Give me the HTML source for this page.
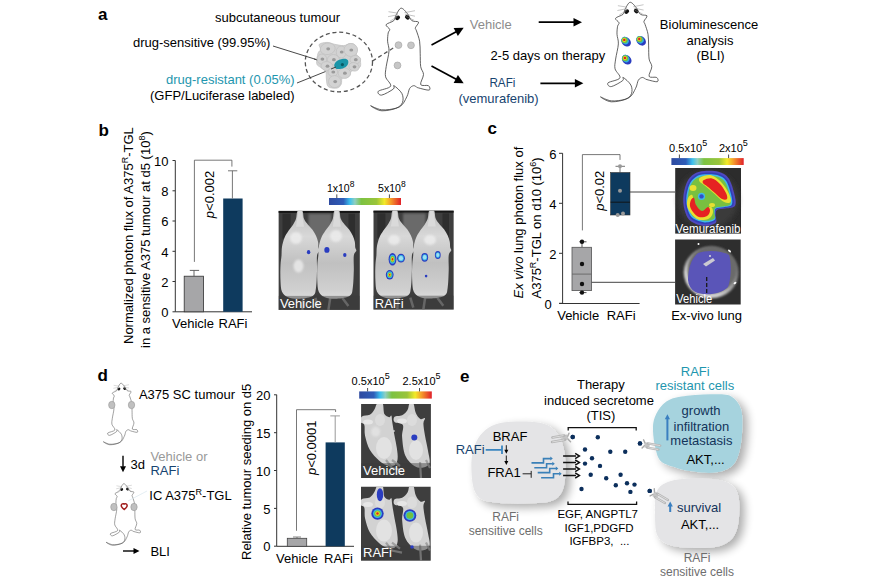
<!DOCTYPE html><html><head><meta charset="utf-8"><style>html,body{margin:0;padding:0;background:#fff;width:875px;height:583px;overflow:hidden}svg{display:block}</style></head><body>
<svg width="875" height="583" viewBox="0 0 875 583" font-family="Liberation Sans, sans-serif">
<defs>
<linearGradient id="jet" x1="0" x2="1" y1="0" y2="0">
<stop offset="0" stop-color="#2e4aa0"/><stop offset="0.2" stop-color="#2e5cb8"/><stop offset="0.29" stop-color="#3cc0ee"/>
<stop offset="0.36" stop-color="#8fcfc0"/><stop offset="0.45" stop-color="#7cc242"/><stop offset="0.66" stop-color="#9ac43a"/>
<stop offset="0.77" stop-color="#f2ea2a"/><stop offset="0.86" stop-color="#f59a2a"/><stop offset="1" stop-color="#e0202a"/>
</linearGradient>
<filter id="blur05" x="-20%" y="-20%" width="140%" height="140%"><feGaussianBlur stdDeviation="0.5"/></filter>
<filter id="blur1" x="-20%" y="-20%" width="140%" height="140%"><feGaussianBlur stdDeviation="1"/></filter>
<filter id="blur2" x="-30%" y="-30%" width="160%" height="160%"><feGaussianBlur stdDeviation="2.5"/></filter>
<filter id="shadow" x="-30%" y="-30%" width="160%" height="160%"><feGaussianBlur in="SourceAlpha" stdDeviation="5"/><feOffset dx="5" dy="4"/><feComponentTransfer><feFuncA type="linear" slope="0.33"/></feComponentTransfer><feMerge><feMergeNode/><feMergeNode in="SourceGraphic"/></feMerge></filter>
<radialGradient id="spotR" cx="0.5" cy="0.5" r="0.5">
<stop offset="0" stop-color="#e02020"/><stop offset="0.22" stop-color="#f0e020"/><stop offset="0.42" stop-color="#60c040"/><stop offset="0.6" stop-color="#30b0e0"/><stop offset="0.78" stop-color="#2040c0"/><stop offset="1" stop-color="#2040c0" stop-opacity="0"/>
</radialGradient>
<radialGradient id="spotG" cx="0.5" cy="0.5" r="0.5">
<stop offset="0" stop-color="#60c040"/><stop offset="0.35" stop-color="#60c040"/><stop offset="0.55" stop-color="#30b0e0"/><stop offset="0.75" stop-color="#2040c0"/><stop offset="1" stop-color="#2040c0" stop-opacity="0"/>
</radialGradient>
<radialGradient id="spotC" cx="0.5" cy="0.5" r="0.5">
<stop offset="0" stop-color="#9ee0f0"/><stop offset="0.3" stop-color="#30b0e0"/><stop offset="0.65" stop-color="#2040c0"/><stop offset="1" stop-color="#2040c0" stop-opacity="0"/>
</radialGradient>
<radialGradient id="spotB" cx="0.5" cy="0.5" r="0.5">
<stop offset="0" stop-color="#3050d0"/><stop offset="0.7" stop-color="#3050d0"/><stop offset="1" stop-color="#3050d0" stop-opacity="0"/>
</radialGradient>
<linearGradient id="pmg" x1="0" x2="0" y1="0" y2="1"><stop offset="0" stop-color="#bcbcbc"/><stop offset="0.3" stop-color="#d8d8d8"/><stop offset="0.6" stop-color="#c0c0c0"/><stop offset="0.9" stop-color="#d0d0d0"/><stop offset="1" stop-color="#dcdcdc"/></linearGradient>

<path id="mouse" d="M0.00,0.00 C1.88,-0.33 4.40,3.13 6.20,5.20 C8.00,7.27 8.92,10.95 10.80,12.40 C12.68,13.85 16.90,12.70 17.50,13.90 C18.10,15.10 14.73,18.13 14.40,19.60 C14.07,21.07 14.80,20.47 15.50,22.70 C16.20,24.93 17.98,29.28 18.60,33.00 C19.22,36.72 19.02,40.75 19.20,45.00 C19.38,49.25 19.15,54.95 19.70,58.50 C20.25,62.05 22.50,63.32 22.50,66.30 C22.50,69.28 18.87,74.53 19.70,76.40 C20.53,78.27 26.10,76.58 27.50,77.50 C28.90,78.42 29.77,81.53 28.10,81.90 C26.43,82.27 19.63,80.25 17.50,79.70 C15.37,79.15 16.13,78.97 15.30,78.60 C14.47,78.23 13.62,77.22 12.50,77.50 C11.38,77.78 9.72,78.45 8.60,80.30 C7.48,82.15 7.47,85.55 5.80,88.60 C4.13,91.65 2.73,96.27 -1.40,98.60 C-5.53,100.93 -14.17,102.78 -19.00,102.60 C-23.83,102.42 -30.35,97.67 -30.40,97.50 C-30.45,97.33 -23.57,101.20 -19.30,101.60 C-15.03,102.00 -8.27,101.13 -4.80,99.90 C-1.33,98.67 0.55,96.63 1.50,94.20 C2.45,91.77 2.32,88.08 0.90,85.30 C-0.52,82.52 -5.58,78.25 -7.00,77.50 C-8.42,76.75 -5.55,79.23 -7.60,80.80 C-9.65,82.37 -16.80,86.53 -19.30,86.90 C-21.80,87.27 -24.08,84.48 -22.60,83.00 C-21.12,81.52 -11.60,80.40 -10.40,78.00 C-9.20,75.60 -14.67,71.85 -15.40,68.60 C-16.13,65.35 -15.37,62.78 -14.80,58.50 C-14.23,54.22 -12.23,47.15 -12.00,42.90 C-11.77,38.65 -13.27,36.03 -13.40,33.00 C-13.53,29.97 -13.15,26.68 -12.80,24.70 C-12.45,22.72 -10.95,22.47 -11.30,21.10 C-11.65,19.73 -15.58,17.95 -14.90,16.50 C-14.22,15.05 -8.83,13.95 -7.20,12.40 C-5.57,10.85 -6.30,9.27 -5.10,7.20 C-3.90,5.13 -1.88,0.33 0.00,0.00Z" fill="#fff" stroke="#444" stroke-width="0.85"/>
<path id="pmouse" d="M-2.40,0.00 C-1.33,-1.33 1.33,-1.33 2.40,0.00 C3.47,1.33 3.07,5.67 4.00,8.00 C4.93,10.33 6.58,12.17 8.00,14.00 C9.42,15.83 11.17,17.17 12.50,19.00 C13.83,20.83 15.08,23.00 16.00,25.00 C16.92,27.00 17.58,29.00 18.00,31.00 C18.42,33.00 18.25,35.50 18.50,37.00 C18.75,38.50 19.75,38.67 19.50,40.00 C19.25,41.33 17.42,41.67 17.00,45.00 C16.58,48.33 17.17,54.67 17.00,60.00 C16.83,65.33 16.67,72.83 16.00,77.00 C15.33,81.17 15.67,83.17 13.00,85.00 C10.33,86.83 4.17,87.75 0.00,88.00 C-4.17,88.25 -9.00,87.67 -12.00,86.50 C-15.00,85.33 -16.75,83.75 -18.00,81.00 C-19.25,78.25 -19.25,74.33 -19.50,70.00 C-19.75,65.67 -19.67,59.17 -19.50,55.00 C-19.33,50.83 -18.75,48.17 -18.50,45.00 C-18.25,41.83 -18.50,39.00 -18.00,36.00 C-17.50,33.00 -16.58,29.67 -15.50,27.00 C-14.42,24.33 -12.92,22.17 -11.50,20.00 C-10.08,17.83 -8.25,16.00 -7.00,14.00 C-5.75,12.00 -4.77,10.33 -4.00,8.00 C-3.23,5.67 -3.47,1.33 -2.40,0.00Z"/>
<g id="mhead"><ellipse cx="-3.3" cy="9.6" rx="2.6" ry="2" transform="rotate(-40 -3.3 9.6)" fill="#111"/><ellipse cx="6.3" cy="9.1" rx="2.6" ry="2" transform="rotate(40 6.3 9.1)" fill="#111"/>
<path d="M-3,5 L-12.5,3.5 M-3,6.5 L-13,8.5 M-3.5,8.5 L-11,13 M3.5,4.5 L14,2.5 M4,6 L14,8 M4.5,8 L13,12" stroke="#888" stroke-width="0.5" fill="none"/></g>
<g id="receptor"><path d="M2.6,-3.8 L4.6,-0.8 M2.6,3.8 L4.6,0.8" stroke="#aaaaaa" stroke-width="1.3" stroke-linecap="round"/><path d="M4.5,-1.8 H9 V3 H4.5 Z" fill="#c4c4c4"/><path d="M7,-1.2 H18.5 M7,2.6 H17.5" stroke="#b4b4b4" stroke-width="2.1" stroke-linecap="round"/><path d="M8,-1.2 H18 M8,2.6 H17" stroke="#e2e2e2" stroke-width="0.7" stroke-linecap="round"/></g>
</defs>
<text x="98" y="19.8" font-size="17" fill="#000" text-anchor="start" font-weight="bold">a</text>
<text x="215" y="21.5" font-size="13" fill="#000" text-anchor="start" >subcutaneous tumour</text>
<text x="133" y="47" font-size="13" fill="#000" text-anchor="start" >drug-sensitive (99.95%)</text>
<text x="166" y="84" font-size="13" fill="#1e96ae" text-anchor="start" >drug-resistant (0.05%)</text>
<text x="150" y="100" font-size="13" fill="#000" text-anchor="start" >(GFP/Luciferase labeled)</text>
<ellipse cx="338.9" cy="62" rx="33.6" ry="29.8" fill="none" stroke="#555" stroke-width="1.3" stroke-dasharray="4,2.8"/>
<line x1="273" y1="46" x2="321" y2="61" stroke="#333" stroke-width="0.9"/>
<line x1="297" y1="83" x2="338" y2="66.5" stroke="#333" stroke-width="0.9"/>
<path d="M319.30,44.30 C320.37,43.13 324.43,42.40 327.00,42.40 C329.57,42.40 331.92,43.77 334.70,44.30 C337.48,44.83 341.12,45.72 343.70,45.60 C346.28,45.48 348.27,43.60 350.20,43.60 C352.13,43.60 354.23,43.77 355.30,45.60 C356.37,47.43 355.85,52.47 356.60,54.60 C357.35,56.73 359.15,56.47 359.80,58.40 C360.45,60.33 361.03,64.48 360.50,66.20 C359.97,67.92 358.12,67.85 356.60,68.70 C355.08,69.55 352.68,70.02 351.40,71.30 C350.12,72.58 350.40,75.33 348.90,76.40 C347.40,77.47 343.68,76.40 342.40,77.70 C341.12,79.00 342.05,82.48 341.20,84.20 C340.35,85.92 339.45,87.58 337.30,88.00 C335.15,88.42 330.12,88.20 328.30,86.70 C326.48,85.20 326.83,81.57 326.40,79.00 C325.97,76.43 326.67,73.23 325.70,71.30 C324.73,69.37 322.10,68.68 320.60,67.40 C319.10,66.12 317.13,65.95 316.70,63.60 C316.27,61.25 317.35,55.67 318.00,53.30 C318.65,50.93 320.38,50.90 320.60,49.40 C320.82,47.90 318.23,45.47 319.30,44.30Z" fill="#d2d2d2" stroke="#c4c4c4" stroke-width="0.8"/>
<line x1="314" y1="59" x2="321" y2="61" stroke="#333" stroke-width="0.9"/>
<g>
<ellipse cx="327.7" cy="48.8" rx="7.5" ry="5.8" transform="rotate(-10 327.7 48.8)" fill="#d3d3d3" stroke="#c2c2c2" stroke-width="0.8"/>
<ellipse cx="341.2" cy="52" rx="5" ry="6" transform="rotate(0 341.2 52)" fill="#d3d3d3" stroke="#c2c2c2" stroke-width="0.8"/>
<ellipse cx="350.8" cy="50" rx="6.8" ry="6.5" transform="rotate(0 350.8 50)" fill="#d3d3d3" stroke="#c2c2c2" stroke-width="0.8"/>
<ellipse cx="321.9" cy="59.1" rx="4.8" ry="5" transform="rotate(0 321.9 59.1)" fill="#d3d3d3" stroke="#c2c2c2" stroke-width="0.8"/>
<ellipse cx="333.4" cy="59.7" rx="6" ry="5.2" transform="rotate(0 333.4 59.7)" fill="#d3d3d3" stroke="#c2c2c2" stroke-width="0.8"/>
<ellipse cx="355.3" cy="59.7" rx="5.3" ry="4.2" transform="rotate(0 355.3 59.7)" fill="#d3d3d3" stroke="#c2c2c2" stroke-width="0.8"/>
<ellipse cx="327" cy="66.2" rx="6" ry="4.6" transform="rotate(10 327 66.2)" fill="#d3d3d3" stroke="#c2c2c2" stroke-width="0.8"/>
<ellipse cx="354" cy="66.8" rx="5.2" ry="4.2" transform="rotate(15 354 66.8)" fill="#d3d3d3" stroke="#c2c2c2" stroke-width="0.8"/>
<ellipse cx="344.4" cy="73.2" rx="6.2" ry="5.2" transform="rotate(0 344.4 73.2)" fill="#d3d3d3" stroke="#c2c2c2" stroke-width="0.8"/>
<ellipse cx="332.8" cy="72" rx="4.8" ry="4.4" transform="rotate(0 332.8 72)" fill="#d3d3d3" stroke="#c2c2c2" stroke-width="0.8"/>
<ellipse cx="334.7" cy="81.6" rx="6.2" ry="6" transform="rotate(0 334.7 81.6)" fill="#d3d3d3" stroke="#c2c2c2" stroke-width="0.8"/>
<ellipse cx="328.2" cy="48.8" rx="1.9" ry="1.6" fill="#9a9a9a"/>
<ellipse cx="341.7" cy="52" rx="1.9" ry="1.6" fill="#9a9a9a"/>
<ellipse cx="351.3" cy="50" rx="1.9" ry="1.6" fill="#9a9a9a"/>
<ellipse cx="322.4" cy="59.1" rx="1.9" ry="1.6" fill="#9a9a9a"/>
<ellipse cx="333.9" cy="59.7" rx="1.9" ry="1.6" fill="#9a9a9a"/>
<ellipse cx="355.8" cy="59.7" rx="1.9" ry="1.6" fill="#9a9a9a"/>
<ellipse cx="327.5" cy="66.2" rx="1.9" ry="1.6" fill="#9a9a9a"/>
<ellipse cx="354.5" cy="66.8" rx="1.9" ry="1.6" fill="#9a9a9a"/>
<ellipse cx="344.9" cy="73.2" rx="1.9" ry="1.6" fill="#9a9a9a"/>
<ellipse cx="333.3" cy="72" rx="1.9" ry="1.6" fill="#9a9a9a"/>
<ellipse cx="335.2" cy="81.6" rx="1.9" ry="1.6" fill="#9a9a9a"/>
</g>
<path d="M334.5,67 C333,63 338,59.5 343,58.8 C348,58.2 349,61 348,64 C346.5,68 341,69.5 336.5,69 Z" fill="#1a95a8"/><circle cx="342.4" cy="64.6" r="1.6" fill="#0a5a64"/>
<line x1="331" y1="69" x2="336" y2="67" stroke="#333" stroke-width="0.9"/>
<g transform="translate(401,8.2)"><use href="#mouse"/><use href="#mhead"/></g>
<line x1="372.5" y1="61" x2="396" y2="46.3" stroke="#555" stroke-width="1.3" stroke-dasharray="4,2.8"/>
<circle cx="398.5" cy="45.1" r="3.4" fill="#c6c6c6" stroke="#a8a8a8" stroke-width="0.7"/>
<circle cx="411" cy="45.3" r="3.4" fill="#c6c6c6" stroke="#a8a8a8" stroke-width="0.7"/>
<circle cx="397.5" cy="65.4" r="3.4" fill="#c6c6c6" stroke="#a8a8a8" stroke-width="0.7"/>
<line x1="431.5" y1="45" x2="456.20" y2="31.80" stroke="#000" stroke-width="1.7"/>
<polygon points="463.7,27.8 457.88,36.01 453.64,28.07" fill="#000"/>
<line x1="431.5" y1="66" x2="456.21" y2="79.28" stroke="#000" stroke-width="1.7"/>
<polygon points="463.7,83.3 453.64,83.00 457.90,75.08" fill="#000"/>
<text x="469.8" y="28.8" font-size="13" fill="#8c8c8c" text-anchor="start" >Vehicle</text>
<text x="490.4" y="59.7" font-size="13" fill="#000" text-anchor="start" >2-5 days on therapy</text>
<text x="489.4" y="87.4" font-size="13" fill="#174470" text-anchor="start" textLength="26" lengthAdjust="spacingAndGlyphs">RAFi</text>
<text x="498.6" y="102.9" font-size="13" fill="#174470" text-anchor="middle" >(vemurafenib)</text>
<line x1="538.7" y1="22.2" x2="574.00" y2="22.20" stroke="#000" stroke-width="1.7"/>
<polygon points="582,22.2 573.50,26.40 573.50,18.00" fill="#000"/>
<line x1="540.4" y1="83.3" x2="575.40" y2="83.30" stroke="#000" stroke-width="1.7"/>
<polygon points="583.4,83.3 574.90,87.50 574.90,79.10" fill="#000"/>
<g transform="translate(630,2.3) scale(0.97)"><use href="#mouse"/><use href="#mhead"/></g>
<g filter="url(#blur05)"><ellipse cx="626.0999999999999" cy="41.699999999999996" rx="5.4" ry="4.2" transform="rotate(45 626.0999999999999 41.699999999999996)" fill="#2a3cc0"/><ellipse cx="625.0999999999999" cy="40.699999999999996" rx="3.9" ry="3.3" transform="rotate(45 625.0999999999999 40.699999999999996)" fill="#30b0e0"/><circle cx="624.5999999999999" cy="40.199999999999996" r="3" fill="#70c040"/><circle cx="624.3" cy="39.9" r="2" fill="#e8d820"/><circle cx="624.3" cy="39.9" r="1.2" fill="#e02020"/></g>
<g filter="url(#blur05)"><ellipse cx="641.0999999999999" cy="40.8" rx="5.4" ry="4.2" transform="rotate(45 641.0999999999999 40.8)" fill="#2a3cc0"/><ellipse cx="640.0999999999999" cy="39.8" rx="3.9" ry="3.3" transform="rotate(45 640.0999999999999 39.8)" fill="#30b0e0"/><circle cx="639.5999999999999" cy="39.3" r="3" fill="#70c040"/><circle cx="639.3" cy="39" r="2" fill="#e8d820"/><circle cx="639.3" cy="39" r="1.2" fill="#e02020"/></g>
<g filter="url(#blur05)"><ellipse cx="626.6999999999999" cy="59.699999999999996" rx="5.4" ry="4.2" transform="rotate(45 626.6999999999999 59.699999999999996)" fill="#2a3cc0"/><ellipse cx="625.6999999999999" cy="58.699999999999996" rx="3.9" ry="3.3" transform="rotate(45 625.6999999999999 58.699999999999996)" fill="#30b0e0"/><circle cx="625.1999999999999" cy="58.199999999999996" r="3" fill="#70c040"/><circle cx="624.9" cy="57.9" r="2" fill="#e8d820"/><circle cx="624.9" cy="57.9" r="1.2" fill="#e02020"/></g>
<text x="709" y="29.4" font-size="13" fill="#000" text-anchor="middle" >Bioluminescence</text>
<text x="710" y="44.6" font-size="13" fill="#000" text-anchor="middle" >analysis</text>
<text x="710.5" y="60.2" font-size="13" fill="#000" text-anchor="middle" >(BLI)</text>
<text x="98.5" y="135.7" font-size="17" fill="#000" text-anchor="start" font-weight="bold">b</text>
<g stroke="#333" stroke-width="1" fill="none">
<path d="M175.3,160.5 V311.8 H252"/>
<line x1="172.5" y1="311.8" x2="175.3" y2="311.8"/>
<line x1="172.5" y1="281.5" x2="175.3" y2="281.5"/>
<line x1="172.5" y1="251.3" x2="175.3" y2="251.3"/>
<line x1="172.5" y1="221.0" x2="175.3" y2="221.0"/>
<line x1="172.5" y1="190.8" x2="175.3" y2="190.8"/>
<line x1="172.5" y1="160.5" x2="175.3" y2="160.5"/>
</g>
<text x="168.5" y="317.0" font-size="13" fill="#000" text-anchor="end" >0</text>
<text x="168.5" y="286.7" font-size="13" fill="#000" text-anchor="end" >2</text>
<text x="168.5" y="256.5" font-size="13" fill="#000" text-anchor="end" >4</text>
<text x="168.5" y="226.2" font-size="13" fill="#000" text-anchor="end" >6</text>
<text x="168.5" y="196.0" font-size="13" fill="#000" text-anchor="end" >8</text>
<text x="168.5" y="165.7" font-size="13" fill="#000" text-anchor="end" >10</text>
<rect x="184.2" y="276.2" width="19.4" height="35.6" fill="#a6a6a8" stroke="#333" stroke-width="0.8"/>
<path d="M194,276.2 V270.4 M189.8,270.4 H199.1" stroke="#555" stroke-width="0.9"/>
<rect x="223.2" y="198.5" width="19.4" height="113.3" fill="#0e3a5e"/>
<path d="M232.4,198.5 V170.8 M228,170.8 H237.3" stroke="#666" stroke-width="0.9"/>
<path d="M194.4,261.9 V160.2 H231.9 V166.6" stroke="#555" stroke-width="0.8" fill="none"/>
<text transform="translate(214.3,170.8) rotate(-90)" font-size="13" fill="#000" text-anchor="end" ><tspan font-style="italic">p</tspan>&lt;0.002</text>
<text x="172" y="328" font-size="13" fill="#000" text-anchor="start" >Vehicle</text>
<text x="218.5" y="328" font-size="13" fill="#000" text-anchor="start" >RAFi</text>
<text transform="translate(132.5,344) rotate(-90)" font-size="13" fill="#000" text-anchor="start" >Normalized photon flux of A375<tspan font-size="9" dy="-5">R</tspan><tspan dy="5">-TGL</tspan></text>
<text transform="translate(149.5,348) rotate(-90)" font-size="13" fill="#000" text-anchor="start" >in a sensitive A375 tumour at d5 (10<tspan font-size="9" dy="-5">8</tspan><tspan dy="5">)</tspan></text>
<rect x="329" y="198" width="72" height="7" fill="url(#jet)"/>
<path d="M336.8,194.4 V198 M389.4,194.4 V198" stroke="#222" stroke-width="0.8"/>
<text x="326.9" y="192" font-size="10.5" fill="#000" text-anchor="start" >1x10<tspan font-size="8.5" dy="-5">8</tspan></text>
<text x="378.1" y="192" font-size="10.5" fill="#000" text-anchor="start" >5x10<tspan font-size="8.5" dy="-5">8</tspan></text>
<clipPath id="c278210"><rect x="278.4" y="210.7" width="81.5" height="99.2"/></clipPath>
<g clip-path="url(#c278210)">
<rect x="278.4" y="210.7" width="81.5" height="99.2" fill="#3e3e3e"/>
<rect x="278.4" y="210.7" width="81.5" height="2.2" fill="#151515"/>
<rect x="308.55499999999995" y="213.7" width="22.820000000000004" height="31.744000000000003" fill="#6a6a6a" filter="url(#blur1)"/>
<rect x="282.47499999999997" y="213.7" width="8.15" height="24.8" fill="#2e2e2e"/>
<rect x="348.49" y="213.7" width="6.5200000000000005" height="34.72" fill="#2e2e2e"/>
<path d="M303.4,295.9 L302.4,309.9 M315.4,297.9 L318.4,307.9 M330.4,296.9 L328.4,309.9 M342.4,297.9 L348.4,305.9" stroke="#8a8a8a" stroke-width="2.5" filter="url(#blur05)"/>
<g filter="url(#blur05)">
<use href="#pmouse" transform="translate(300.0,210.7)" fill="url(#pmg)"/>
<path d="M298.2,210.7 H301.8 L304.0,226.7 H296.0 Z" fill="#dadada"/>
<use href="#pmouse" transform="translate(336.79999999999995,210.7)" fill="url(#pmg)"/>
<path d="M334.99999999999994,210.7 H338.59999999999997 L340.79999999999995,226.7 H332.79999999999995 Z" fill="#dadada"/>
</g>
<ellipse cx="298.5" cy="266" rx="5" ry="6.5" fill="#f0f0f0" opacity="0.75" filter="url(#blur1)"/>
<ellipse cx="296" cy="238" rx="6" ry="6" fill="#f0f0f0" opacity="0.75" filter="url(#blur1)"/>
<ellipse cx="336" cy="236" rx="6" ry="6" fill="#f0f0f0" opacity="0.75" filter="url(#blur1)"/>
<rect x="278.4" y="295.9" width="81.5" height="14" fill="#3a3a3a" opacity="0.45"/>
<g filter="url(#blur05)">
<ellipse cx="308.6" cy="252.2" rx="1.70" ry="2.10" fill="#2a3cc0"/>
</g>
<g filter="url(#blur05)">
<ellipse cx="326.9" cy="249.9" rx="2.60" ry="2.90" fill="#2a3cc0"/>
</g>
<g filter="url(#blur05)">
<ellipse cx="344.8" cy="255" rx="1.70" ry="1.90" fill="#2a3cc0"/>
</g>
</g>
<text x="279.9" y="308.29999999999995" font-size="13" fill="#fff" text-anchor="start" >Vehicle</text>
<clipPath id="c373210"><rect x="373.3" y="210.4" width="80.5" height="99.3"/></clipPath>
<g clip-path="url(#c373210)">
<rect x="373.3" y="210.4" width="80.5" height="99.3" fill="#3e3e3e"/>
<rect x="373.3" y="210.4" width="80.5" height="2.2" fill="#151515"/>
<rect x="403.08500000000004" y="213.4" width="22.540000000000003" height="31.776" fill="#6a6a6a" filter="url(#blur1)"/>
<rect x="377.325" y="213.4" width="8.05" height="24.825" fill="#2e2e2e"/>
<rect x="442.53000000000003" y="213.4" width="6.44" height="34.754999999999995" fill="#2e2e2e"/>
<path d="M398.3,295.7 L397.3,309.7 M410.3,297.7 L413.3,307.7 M425.3,296.7 L423.3,309.7 M437.3,297.7 L443.3,305.7" stroke="#8a8a8a" stroke-width="2.5" filter="url(#blur05)"/>
<g filter="url(#blur05)">
<use href="#pmouse" transform="translate(394.90000000000003,210.4)" fill="url(#pmg)"/>
<path d="M393.1,210.4 H396.70000000000005 L398.90000000000003,226.4 H390.90000000000003 Z" fill="#dadada"/>
<use href="#pmouse" transform="translate(431.7,210.4)" fill="url(#pmg)"/>
<path d="M429.9,210.4 H433.5 L435.7,226.4 H427.7 Z" fill="#dadada"/>
</g>
<ellipse cx="394" cy="240" rx="6" ry="5" fill="#f0f0f0" opacity="0.75" filter="url(#blur1)"/>
<ellipse cx="430" cy="240" rx="6" ry="5" fill="#f0f0f0" opacity="0.75" filter="url(#blur1)"/>
<rect x="373.3" y="295.7" width="80.5" height="14" fill="#3a3a3a" opacity="0.45"/>
<g filter="url(#blur05)">
<ellipse cx="392.5" cy="259.2" rx="3.90" ry="6.30" fill="#2a3cc0"/>
<ellipse cx="392.5" cy="259.2" rx="2.81" ry="4.54" fill="#38b8e8"/>
<ellipse cx="392.5" cy="259.2" rx="2.03" ry="3.28" fill="#70c040"/>
<ellipse cx="392.5" cy="259.2" rx="1.40" ry="2.27" fill="#e8e020"/>
<ellipse cx="392.5" cy="259.2" rx="0.78" ry="1.26" fill="#e02020"/>
</g>
<g filter="url(#blur05)">
<ellipse cx="401" cy="258.2" rx="3.90" ry="4.40" fill="#2a3cc0"/>
<ellipse cx="401" cy="258.2" rx="2.81" ry="3.17" fill="#38b8e8"/>
<ellipse cx="401" cy="258.2" rx="2.03" ry="2.29" fill="#a0e0f0"/>
</g>
<g filter="url(#blur05)">
<ellipse cx="389.7" cy="274.8" rx="3.90" ry="4.80" fill="#2a3cc0"/>
<ellipse cx="389.7" cy="274.8" rx="2.81" ry="3.46" fill="#38b8e8"/>
<ellipse cx="389.7" cy="274.8" rx="2.03" ry="2.50" fill="#70c040"/>
<ellipse cx="389.7" cy="274.8" rx="1.40" ry="1.73" fill="#e8e020"/>
<ellipse cx="389.7" cy="274.8" rx="0.78" ry="0.96" fill="#e02020"/>
</g>
<g filter="url(#blur05)">
<ellipse cx="424.7" cy="257.3" rx="3.40" ry="4.40" fill="#2a3cc0"/>
<ellipse cx="424.7" cy="257.3" rx="2.45" ry="3.17" fill="#38b8e8"/>
<ellipse cx="424.7" cy="257.3" rx="1.77" ry="2.29" fill="#a0e0f0"/>
</g>
<g filter="url(#blur05)">
<ellipse cx="437.8" cy="255" rx="2.90" ry="3.90" fill="#2a3cc0"/>
<ellipse cx="437.8" cy="255" rx="2.09" ry="2.81" fill="#38b8e8"/>
<ellipse cx="437.8" cy="255" rx="1.51" ry="2.03" fill="#a0e0f0"/>
</g>
<g filter="url(#blur05)">
<ellipse cx="426.1" cy="276.1" rx="1.30" ry="1.30" fill="#2a3cc0"/>
</g>
</g>
<text x="374.8" y="308.09999999999997" font-size="13" fill="#fff" text-anchor="start" >RAFi</text>
<text x="487.5" y="134.2" font-size="17" fill="#000" text-anchor="start" font-weight="bold">c</text>
<g stroke="#333" stroke-width="1" fill="none">
<path d="M562.6,153.2 V303.5 M559.3,303.5 H639.6"/>
<line x1="559" y1="303.3" x2="562.6" y2="303.3"/>
<line x1="559" y1="253.3" x2="562.6" y2="253.3"/>
<line x1="559" y1="203.3" x2="562.6" y2="203.3"/>
<line x1="559" y1="153.3" x2="562.6" y2="153.3"/>
</g>
<text x="551.8" y="308.7" font-size="13" fill="#000" text-anchor="end" >0</text>
<text x="556.5" y="258.7" font-size="13" fill="#000" text-anchor="end" >2</text>
<text x="556.5" y="208.7" font-size="13" fill="#000" text-anchor="end" >4</text>
<text x="556.5" y="158.7" font-size="13" fill="#000" text-anchor="end" >6</text>
<path d="M582,241.8 V247.3 M579.3,241.8 H586.5 M582,290.6 V292.6 M579.3,292.6 H586.5" stroke="#444" stroke-width="0.9"/>
<rect x="572" y="247.3" width="19.6" height="43.3" fill="#a6a6a8" stroke="#555" stroke-width="0.8"/>
<line x1="572" y1="274.1" x2="591.6" y2="274.1" stroke="#666" stroke-width="0.9"/>
<circle cx="582" cy="241.8" r="2.2" fill="#111"/>
<circle cx="582" cy="264" r="2.2" fill="#111"/>
<circle cx="582" cy="284" r="2.2" fill="#111"/>
<circle cx="582" cy="292.6" r="2.2" fill="#111"/>
<path d="M620,166.3 V172.5 M615.5,166.3 H625" stroke="#666" stroke-width="0.9"/>
<rect x="610.6" y="172.5" width="19.4" height="42.5" fill="#0e3a5e" stroke="#333" stroke-width="0.6"/>
<line x1="610.6" y1="202.2" x2="630" y2="202.2" stroke="#111" stroke-width="0.9"/>
<circle cx="620" cy="166.3" r="2" fill="#999"/>
<circle cx="620" cy="190.8" r="2" fill="#999"/>
<circle cx="617.7" cy="215" r="2" fill="#999"/>
<circle cx="623" cy="213.5" r="2" fill="#999"/>
<path d="M582.4,230.4 V154.6 H620 V159.9" stroke="#555" stroke-width="0.8" fill="none"/>
<text transform="translate(603.6,170.7) rotate(-90)" font-size="13" fill="#000" text-anchor="end" ><tspan font-style="italic">p</tspan>&lt;0.02</text>
<path d="M630,192 H675.1 M591.6,282.3 H675.1" stroke="#444" stroke-width="1"/>
<text x="557.2" y="320" font-size="13" fill="#000" text-anchor="start" >Vehicle</text>
<text x="606.7" y="320" font-size="13" fill="#000" text-anchor="start" >RAFi</text>
<text transform="translate(523,298.5) rotate(-90)" font-size="13" fill="#000" text-anchor="start" ><tspan font-style="italic">Ex vivo</tspan> lung photon flux of</text>
<text transform="translate(541.2,298.5) rotate(-90)" font-size="13" fill="#000" text-anchor="start" >A375<tspan font-size="9" dy="-5">R</tspan><tspan dy="5">-TGL on d10 (10</tspan><tspan font-size="9" dy="-5">6</tspan><tspan dy="5">)</tspan></text>
<rect x="671.4" y="158.1" width="72.3" height="6.9" fill="url(#jet)"/>
<path d="M679.4,154.5 V158.1 M728.6,154.5 V158.1" stroke="#222" stroke-width="0.8"/>
<text x="669.1" y="152.1" font-size="11" fill="#000" text-anchor="start" >0.5x10<tspan font-size="9" dy="-6">5</tspan></text>
<text x="718.9" y="152.1" font-size="11" fill="#000" text-anchor="start" >2x10<tspan font-size="9" dy="-6">5</tspan></text>
<rect x="675.2" y="168" width="65.8" height="65.6" fill="#2c2c2c"/>
<ellipse cx="708" cy="200" rx="30" ry="29" fill="#3a3a3a" filter="url(#blur2)"/>
<g filter="url(#blur05)">
<path d="M704.12,171.02 C708.19,170.65 714.42,170.54 718.50,171.75 C722.58,172.96 725.94,174.53 728.58,178.26 C731.22,181.99 733.27,189.55 734.36,194.12 C735.44,198.68 736.52,203.27 735.09,205.67 C733.65,208.06 728.75,207.78 725.75,208.50 C722.74,209.22 718.71,208.76 717.03,209.97 C715.35,211.18 715.89,213.59 715.66,215.75 C715.44,217.90 717.59,221.20 715.66,222.88 C713.74,224.56 708.19,226.05 704.12,225.82 C700.04,225.60 694.32,223.69 691.20,221.52 C688.09,219.35 686.75,216.66 685.42,212.81 C684.09,208.96 682.99,203.46 683.22,198.42 C683.45,193.38 684.99,186.64 686.79,182.56 C688.59,178.49 691.15,175.88 694.04,173.95 C696.92,172.03 700.04,171.38 704.12,171.02Z" fill="#5048c0"/>
<path d="M704.37,172.81 C708.18,172.47 713.99,172.37 717.80,173.50 C721.61,174.63 724.74,176.10 727.21,179.58 C729.67,183.06 731.59,190.11 732.60,194.37 C733.61,198.64 734.62,202.92 733.28,205.15 C731.94,207.39 727.37,207.13 724.56,207.80 C721.75,208.47 718.00,208.04 716.43,209.17 C714.86,210.30 715.37,212.55 715.15,214.56 C714.94,216.57 716.95,219.66 715.15,221.23 C713.36,222.79 708.18,224.18 704.37,223.97 C700.57,223.76 695.23,221.98 692.32,219.95 C689.41,217.93 688.17,215.41 686.93,211.82 C685.69,208.22 684.66,203.10 684.87,198.39 C685.08,193.69 686.52,187.40 688.20,183.59 C689.89,179.79 692.27,177.35 694.97,175.56 C697.66,173.76 700.57,173.16 704.37,172.81Z" fill="#2f40b8"/>
<path d="M704.60,174.36 C708.17,174.03 713.63,173.94 717.20,175.00 C720.77,176.06 723.72,177.44 726.03,180.70 C728.35,183.97 730.14,190.59 731.09,194.60 C732.04,198.60 732.99,202.62 731.74,204.72 C730.48,206.82 726.19,206.57 723.55,207.20 C720.91,207.83 717.38,207.43 715.91,208.49 C714.44,209.55 714.92,211.66 714.72,213.55 C714.52,215.43 716.40,218.33 714.72,219.80 C713.03,221.28 708.17,222.58 704.60,222.38 C701.02,222.18 696.01,220.51 693.28,218.61 C690.55,216.71 689.39,214.35 688.22,210.97 C687.05,207.60 686.09,202.78 686.29,198.37 C686.49,193.95 687.84,188.05 689.42,184.48 C691.00,180.90 693.23,178.62 695.76,176.93 C698.29,175.25 701.02,174.68 704.60,174.36Z" fill="#40b8e8"/>
<path d="M704.82,175.90 C708.16,175.60 713.26,175.51 716.60,176.50 C719.94,177.49 722.69,178.78 724.86,181.83 C727.02,184.88 728.70,191.08 729.59,194.82 C730.47,198.56 731.36,202.31 730.19,204.28 C729.01,206.24 725.00,206.01 722.53,206.60 C720.07,207.19 716.77,206.81 715.40,207.80 C714.02,208.79 714.46,210.77 714.28,212.53 C714.09,214.30 715.85,217.01 714.28,218.38 C712.70,219.76 708.16,220.98 704.82,220.79 C701.48,220.60 696.79,219.04 694.24,217.26 C691.69,215.49 690.60,213.28 689.51,210.13 C688.42,206.97 687.52,202.47 687.70,198.34 C687.89,194.22 689.15,188.70 690.63,185.36 C692.10,182.02 694.20,179.88 696.56,178.31 C698.93,176.73 701.48,176.20 704.82,175.90Z" fill="#78c040"/>
<path d="M700.70,177.30 C702.65,176.33 707.63,174.48 711.10,175.35 C714.57,176.22 718.47,179.36 721.50,182.50 C724.53,185.64 727.78,190.95 729.30,194.20 C730.82,197.45 731.47,200.70 730.60,202.00 C729.73,203.30 726.70,203.30 724.10,202.00 C721.50,200.70 718.03,196.80 715.00,194.20 C711.97,191.60 708.50,188.57 705.90,186.40 C703.30,184.23 700.27,182.72 699.40,181.20 C698.53,179.68 698.75,178.28 700.70,177.30Z" fill="#e8e030"/>
<path d="M688.30,197.60 C689.17,195.87 691.12,193.92 692.20,195.00 C693.28,196.08 693.07,201.28 694.80,204.10 C696.53,206.92 700.00,211.47 702.60,211.90 C705.20,212.33 708.67,206.70 710.40,206.70 C712.13,206.70 713.22,209.95 713.00,211.90 C712.78,213.85 711.48,217.10 709.10,218.40 C706.72,219.70 701.73,220.57 698.70,219.70 C695.67,218.83 692.85,215.58 690.90,213.20 C688.95,210.82 687.43,208.00 687.00,205.40 C686.57,202.80 687.43,199.33 688.30,197.60Z" fill="#e8e030"/>
<ellipse cx="693" cy="188" rx="3.5" ry="3" fill="#e8e030"/><ellipse cx="712" cy="205" rx="3" ry="2" fill="#e8e030"/>
<path d="M704.00,180.00 C705.50,179.25 709.33,177.83 712.00,178.50 C714.67,179.17 717.67,181.58 720.00,184.00 C722.33,186.42 724.83,190.50 726.00,193.00 C727.17,195.50 727.67,198.00 727.00,199.00 C726.33,200.00 724.00,200.00 722.00,199.00 C720.00,198.00 717.33,195.00 715.00,193.00 C712.67,191.00 710.00,188.67 708.00,187.00 C706.00,185.33 703.67,184.17 703.00,183.00 C702.33,181.83 702.50,180.75 704.00,180.00Z" fill="#e62020"/>
<path d="M691.00,200.00 C691.67,198.67 693.17,197.17 694.00,198.00 C694.83,198.83 694.67,202.83 696.00,205.00 C697.33,207.17 700.00,210.67 702.00,211.00 C704.00,211.33 706.67,207.00 708.00,207.00 C709.33,207.00 710.17,209.50 710.00,211.00 C709.83,212.50 708.83,215.00 707.00,216.00 C705.17,217.00 701.33,217.67 699.00,217.00 C696.67,216.33 694.50,213.83 693.00,212.00 C691.50,210.17 690.33,208.00 690.00,206.00 C689.67,204.00 690.33,201.33 691.00,200.00Z" fill="#e62020"/>
<circle cx="701.5" cy="196.4" r="5.5" fill="#78c040"/><circle cx="701.5" cy="196.4" r="3.6" fill="#40b8e8"/><circle cx="701.5" cy="196.4" r="2.2" fill="#3050c8"/>
</g>
<text x="675.5" y="232.7" font-size="12.5" fill="#fff" text-anchor="start" textLength="65" lengthAdjust="spacingAndGlyphs">Vemurafenib</text>
<rect x="675.1" y="239.5" width="65.6" height="65" fill="#2e2e2e"/>
<radialGradient id="lrg" cx="0.35" cy="0.7" r="0.75"><stop offset="0.5" stop-color="#d0d0d0"/><stop offset="1" stop-color="#555"/></radialGradient>
<ellipse cx="711.2" cy="272.3" rx="27.5" ry="26" fill="url(#lrg)" filter="url(#blur1)"/>
<ellipse cx="712" cy="270" rx="24.5" ry="23.5" fill="#6a6a6a" filter="url(#blur1)"/>
<path d="M698,253 C706,250 721,250 729,255 C732,263 731,279 728,287 C722,293 712,295 703,294 C694,293 689,289 688,280 C688,269 691,259 698,253 Z" fill="#5a54b8" filter="url(#blur05)"/>
<path d="M703,264 L713,258 L715,260.5 L706,266.5 Z" fill="#e8e8d8" opacity="0.8" filter="url(#blur05)"/><circle cx="710" cy="256" r="1" fill="#ddd"/>
<path d="M706.7,277 V281 M706.7,283 V287 M706.7,289 V293" stroke="#1a1a1a" stroke-width="1.3"/>
<ellipse cx="729.5" cy="251" rx="1.8" ry="1" transform="rotate(40 729.5 251)" fill="#fff"/><ellipse cx="735" cy="283" rx="1.6" ry="1" transform="rotate(-40 735 283)" fill="#fff"/><circle cx="698.5" cy="244" r="1" fill="#fff"/>
<text x="676.2" y="302.5" font-size="12.5" fill="#fff" text-anchor="start" textLength="36" lengthAdjust="spacingAndGlyphs">Vehicle</text>
<text x="671.2" y="319.7" font-size="13" fill="#000" text-anchor="start" >Ex-vivo lung</text>
<text x="97.5" y="380.9" font-size="17" fill="#000" text-anchor="start" font-weight="bold">d</text>
<g transform="translate(120.9,383.2) scale(0.58,0.6)"><use href="#mouse"/><use href="#mhead"/></g>
<ellipse cx="111.8" cy="405" rx="3.2" ry="3.7" fill="#c0c0c0" stroke="#999" stroke-width="0.6"/>
<ellipse cx="131.5" cy="405" rx="3.2" ry="3.7" fill="#c0c0c0" stroke="#999" stroke-width="0.6"/>
<text x="138.9" y="399.1" font-size="13" fill="#000" text-anchor="start" >A375 SC tumour</text>
<line x1="123" y1="455.7" x2="123.00" y2="466.80" stroke="#000" stroke-width="1.4"/>
<polygon points="123,472.3 120.00,466.30 126.00,466.30" fill="#000"/>
<text x="130.6" y="468.7" font-size="13" fill="#000" text-anchor="start" >3d</text>
<text x="150.4" y="461.4" font-size="13" fill="#999" text-anchor="start" >Vehicle or</text>
<text x="150.4" y="475" font-size="13" fill="#174470" text-anchor="start" >RAFi</text>
<g transform="translate(123.7,483.7) scale(0.58,0.6)"><use href="#mouse"/><use href="#mhead"/></g>
<ellipse cx="113.9" cy="507" rx="3.2" ry="3.7" fill="#c0c0c0" stroke="#999" stroke-width="0.6"/>
<ellipse cx="134" cy="507" rx="3.2" ry="3.7" fill="#c0c0c0" stroke="#999" stroke-width="0.6"/>
<path d="M124.2,509.5 C121.3,507.3 120.5,505.3 122,504 C123.1,503.2 124.2,503.9 124.2,504.7 C124.2,503.9 125.3,503.2 126.4,504 C127.9,505.3 127.1,507.3 124.2,509.5 Z" fill="none" stroke="#a01c1c" stroke-width="1.5"/>
<line x1="128" y1="501" x2="147" y2="491" stroke="#d8e6ee" stroke-width="0.7"/>
<text x="149.3" y="499.7" font-size="13" fill="#000" text-anchor="start" >IC A375<tspan font-size="9" dy="-5">R</tspan><tspan dy="5">-TGL</tspan></text>
<line x1="123" y1="551" x2="134.00" y2="551.00" stroke="#000" stroke-width="1.4"/>
<polygon points="139.5,551 133.50,554.00 133.50,548.00" fill="#000"/>
<text x="150.4" y="555.6" font-size="13" fill="#000" text-anchor="start" >BLI</text>
<g stroke="#333" stroke-width="1" fill="none">
<path d="M276.7,394.7 V546.3 H354"/>
<line x1="274" y1="546.2" x2="276.7" y2="546.2"/>
<line x1="274" y1="508.4" x2="276.7" y2="508.4"/>
<line x1="274" y1="470.5" x2="276.7" y2="470.5"/>
<line x1="274" y1="432.7" x2="276.7" y2="432.7"/>
<line x1="274" y1="394.8" x2="276.7" y2="394.8"/>
</g>
<text x="270.5" y="551.4" font-size="13" fill="#000" text-anchor="end" >0</text>
<text x="270.5" y="513.6" font-size="13" fill="#000" text-anchor="end" >5</text>
<text x="270.5" y="475.7" font-size="13" fill="#000" text-anchor="end" >10</text>
<text x="270.5" y="437.9" font-size="13" fill="#000" text-anchor="end" >15</text>
<text x="270.5" y="400.0" font-size="13" fill="#000" text-anchor="end" >20</text>
<path d="M297,538.3 V537 M293,537 H301" stroke="#666" stroke-width="0.8"/>
<rect x="287.3" y="538.3" width="19.4" height="8" fill="#a6a6a8" stroke="#444" stroke-width="0.8"/>
<rect x="325.6" y="442.4" width="19.2" height="103.9" fill="#0e3a5e"/>
<path d="M335.2,442.4 V415.9 M330.3,415.9 H339.9" stroke="#999" stroke-width="1"/>
<path d="M296.5,530.8 V409.7 H335.6 V412" stroke="#555" stroke-width="0.8" fill="none"/>
<text transform="translate(316,420.5) rotate(-90)" font-size="13" fill="#000" text-anchor="end" ><tspan font-style="italic">p</tspan>&lt;0.0001</text>
<text x="276.1" y="562.8" font-size="13" fill="#000" text-anchor="start" >Vehicle</text>
<text x="324" y="562.8" font-size="13" fill="#000" text-anchor="start" >RAFi</text>
<text transform="translate(250.5,560) rotate(-90)" font-size="13" fill="#000" text-anchor="start" >Relative tumour seeding on d5</text>
<rect x="359.2" y="391.4" width="72.6" height="7.2" fill="url(#jet)"/>
<path d="M367.6,388 V391.4 M419.5,388 V391.4" stroke="#222" stroke-width="0.8"/>
<text x="351.6" y="384.8" font-size="11" fill="#000" text-anchor="start" >0.5x10<tspan font-size="9" dy="-6">5</tspan></text>
<text x="402.5" y="384.8" font-size="11" fill="#000" text-anchor="start" >2.5x10<tspan font-size="9" dy="-6">5</tspan></text>
<clipPath id="d403"><rect x="361.1" y="403.9" width="69.8" height="74.2"/></clipPath>
<g clip-path="url(#d403)">
<rect x="361.1" y="403.9" width="69.8" height="74.2" fill="#3e3e3e"/>
<g filter="url(#blur05)" transform="translate(0,0)">
<path d="M379.01,403.20 C380.04,403.20 381.96,402.15 382.86,403.97 C383.76,405.78 383.35,411.89 384.40,414.09 C385.44,416.29 387.96,416.91 389.13,417.17 C390.30,417.43 390.93,414.86 391.44,415.63 C391.95,416.40 391.70,418.43 392.21,421.79 C392.72,425.14 393.75,431.38 394.52,435.76 C395.29,440.14 396.32,444.21 396.83,448.08 C397.34,451.95 397.99,456.13 397.60,458.97 C397.22,461.81 396.33,464.10 394.52,465.13 C392.70,466.16 389.30,465.90 386.71,465.13 C384.13,464.36 381.83,463.08 379.01,460.51 C376.19,457.94 372.10,453.86 369.77,449.73 C367.44,445.61 365.96,439.90 365.04,435.76 C364.12,431.62 365.17,427.20 364.27,424.87 C363.37,422.54 360.03,423.20 359.65,421.79 C359.26,420.38 360.27,417.55 361.96,416.40 C363.65,415.25 367.70,416.01 369.77,414.86 C371.84,413.71 373.24,411.28 374.39,409.47 C375.54,407.65 375.93,405.01 376.70,403.97 C377.47,402.92 377.98,403.20 379.01,403.20Z" fill="#d2d2d2"/>
<path d="M410.54,403.00 C411.30,402.88 412.69,402.10 413.57,403.76 C414.45,405.42 414.70,410.40 415.84,412.94 C416.97,415.48 418.84,418.11 420.37,418.99 C421.90,419.87 424.51,417.48 425.02,418.23 C425.52,418.99 423.40,420.61 423.40,423.52 C423.40,426.44 424.24,431.16 425.02,435.73 C425.79,440.30 427.28,446.40 428.04,450.96 C428.80,455.51 430.33,460.28 429.55,463.05 C428.78,465.82 425.93,467.08 423.40,467.59 C420.86,468.09 417.35,468.09 414.32,466.08 C411.30,464.06 407.29,460.30 405.25,455.49 C403.22,450.69 402.52,442.32 402.12,437.24 C401.72,432.16 404.14,427.57 402.88,425.04 C401.62,422.50 395.95,423.40 394.56,422.01 C393.17,420.63 393.30,417.85 394.56,416.72 C395.82,415.59 399.96,416.34 402.12,415.21 C404.28,414.07 406.37,411.70 407.52,409.92 C408.67,408.13 408.53,405.67 409.03,404.52 C409.54,403.36 409.79,403.13 410.54,403.00Z" fill="#d2d2d2"/>
<path d="M386,460 L392,468 L402,470 M392,460 L400,466 M420,462 L421,478 M426,460 L430,468" stroke="#a0a0a0" stroke-width="2.2" fill="none"/>
<ellipse cx="380" cy="420" rx="5" ry="6" fill="#dcdcdc"/><ellipse cx="412" cy="420" rx="5" ry="6" fill="#dcdcdc"/>
<ellipse cx="384" cy="448" rx="8" ry="11" fill="#e2e2e2"/><ellipse cx="416" cy="450" rx="7" ry="10" fill="#e2e2e2"/><ellipse cx="368" cy="422" rx="5" ry="2.5" fill="#e6e6e6"/><ellipse cx="402" cy="421" rx="5" ry="2.5" fill="#e6e6e6"/>
</g>
<ellipse cx="375.6" cy="431.7" rx="4.5" ry="5" fill="#e8e8e8" opacity="0.7" filter="url(#blur1)"/><circle cx="394" cy="431" r="0.8" fill="#fff"/>
<rect x="361.1" y="463.09999999999997" width="69.8" height="15" fill="#3a3a3a" opacity="0.45"/>
<g filter="url(#blur05)">
<ellipse cx="414.3" cy="437.5" rx="3.00" ry="3.00" fill="#2a3cc0"/>
</g>
</g>
<text x="363.1" y="474.59999999999997" font-size="13" fill="#fff" text-anchor="start" >Vehicle</text>
<clipPath id="d486"><rect x="361" y="486.5" width="69.8" height="74.3"/></clipPath>
<g clip-path="url(#d486)">
<rect x="361" y="486.5" width="69.8" height="74.3" fill="#3e3e3e"/>
<g filter="url(#blur05)" transform="translate(0,82.6)">
<path d="M379.01,403.20 C380.04,403.20 381.96,402.15 382.86,403.97 C383.76,405.78 383.35,411.89 384.40,414.09 C385.44,416.29 387.96,416.91 389.13,417.17 C390.30,417.43 390.93,414.86 391.44,415.63 C391.95,416.40 391.70,418.43 392.21,421.79 C392.72,425.14 393.75,431.38 394.52,435.76 C395.29,440.14 396.32,444.21 396.83,448.08 C397.34,451.95 397.99,456.13 397.60,458.97 C397.22,461.81 396.33,464.10 394.52,465.13 C392.70,466.16 389.30,465.90 386.71,465.13 C384.13,464.36 381.83,463.08 379.01,460.51 C376.19,457.94 372.10,453.86 369.77,449.73 C367.44,445.61 365.96,439.90 365.04,435.76 C364.12,431.62 365.17,427.20 364.27,424.87 C363.37,422.54 360.03,423.20 359.65,421.79 C359.26,420.38 360.27,417.55 361.96,416.40 C363.65,415.25 367.70,416.01 369.77,414.86 C371.84,413.71 373.24,411.28 374.39,409.47 C375.54,407.65 375.93,405.01 376.70,403.97 C377.47,402.92 377.98,403.20 379.01,403.20Z" fill="#d2d2d2"/>
<path d="M410.54,403.00 C411.30,402.88 412.69,402.10 413.57,403.76 C414.45,405.42 414.70,410.40 415.84,412.94 C416.97,415.48 418.84,418.11 420.37,418.99 C421.90,419.87 424.51,417.48 425.02,418.23 C425.52,418.99 423.40,420.61 423.40,423.52 C423.40,426.44 424.24,431.16 425.02,435.73 C425.79,440.30 427.28,446.40 428.04,450.96 C428.80,455.51 430.33,460.28 429.55,463.05 C428.78,465.82 425.93,467.08 423.40,467.59 C420.86,468.09 417.35,468.09 414.32,466.08 C411.30,464.06 407.29,460.30 405.25,455.49 C403.22,450.69 402.52,442.32 402.12,437.24 C401.72,432.16 404.14,427.57 402.88,425.04 C401.62,422.50 395.95,423.40 394.56,422.01 C393.17,420.63 393.30,417.85 394.56,416.72 C395.82,415.59 399.96,416.34 402.12,415.21 C404.28,414.07 406.37,411.70 407.52,409.92 C408.67,408.13 408.53,405.67 409.03,404.52 C409.54,403.36 409.79,403.13 410.54,403.00Z" fill="#d2d2d2"/>
<path d="M386,460 L392,468 L402,470 M392,460 L400,466 M420,462 L421,478 M426,460 L430,468" stroke="#a0a0a0" stroke-width="2.2" fill="none"/>
<ellipse cx="380" cy="420" rx="5" ry="6" fill="#dcdcdc"/><ellipse cx="412" cy="420" rx="5" ry="6" fill="#dcdcdc"/>
<ellipse cx="384" cy="448" rx="8" ry="11" fill="#e2e2e2"/><ellipse cx="416" cy="450" rx="7" ry="10" fill="#e2e2e2"/><ellipse cx="368" cy="422" rx="5" ry="2.5" fill="#e6e6e6"/><ellipse cx="402" cy="421" rx="5" ry="2.5" fill="#e6e6e6"/>
</g>

<rect x="361" y="545.8" width="69.8" height="15" fill="#3a3a3a" opacity="0.45"/>
<g filter="url(#blur05)">
<ellipse cx="377.5" cy="513.6" rx="6.20" ry="6.20" fill="#2a3cc0"/>
<ellipse cx="377.5" cy="513.6" rx="4.46" ry="4.46" fill="#38b8e8"/>
<ellipse cx="377.5" cy="513.6" rx="3.22" ry="3.22" fill="#70c040"/>
<ellipse cx="377.5" cy="513.6" rx="2.23" ry="2.23" fill="#e8e020"/>
<ellipse cx="377.5" cy="513.6" rx="1.24" ry="1.24" fill="#e02020"/>
</g>
<g filter="url(#blur05)">
<ellipse cx="409.9" cy="515.5" rx="6.40" ry="6.20" fill="#2a3cc0"/>
<ellipse cx="409.9" cy="515.5" rx="4.61" ry="4.46" fill="#38b8e8"/>
<ellipse cx="409.9" cy="515.5" rx="3.33" ry="3.22" fill="#70c040"/>
<ellipse cx="409.9" cy="515.5" rx="2.30" ry="2.23" fill="#70c040"/>
</g>
<g filter="url(#blur05)">
<ellipse cx="380" cy="494.7" rx="3.20" ry="6.50" fill="#2a3cc0"/>
</g>
<g filter="url(#blur05)">
<ellipse cx="412" cy="547" rx="1.80" ry="1.80" fill="#2a3cc0"/>
</g>
</g>
<text x="363" y="557.3" font-size="13" fill="#fff" text-anchor="start" >RAFi</text>
<text x="460" y="381.6" font-size="17" fill="#000" text-anchor="start" font-weight="bold">e</text>
<path d="M471.5,472 C470,445 480,423 510,421.7 C530,421 545,421.5 552,428 C562,436 566,450 565.5,470 C565,490 562,500 545,502.5 C520,504.5 495,504 483,500 C474,496 472,485 471.5,472 Z" fill="#e4e4e6" filter="url(#shadow)"/>
<text x="510" y="440.5" font-size="13" fill="#000" text-anchor="middle" >BRAF</text>
<text x="455.7" y="454.3" font-size="13" fill="#174470" text-anchor="start" >RAFi</text>
<path d="M485.7,449.8 H502 M502,445.5 V454" stroke="#3a85c0" stroke-width="1.8"/>
<line x1="506.3" y1="445.2" x2="506.30" y2="450.20" stroke="#000" stroke-width="0.9"/>
<polygon points="506.3,453.7 504.30,449.70 508.30,449.70" fill="#000"/>
<line x1="506.3" y1="455.5" x2="506.30" y2="461.40" stroke="#000" stroke-width="0.9"/>
<polygon points="506.3,464.9 504.30,460.90 508.30,460.90" fill="#000"/>
<text x="487.4" y="476.9" font-size="13" fill="#000" text-anchor="start" >FRA1</text>
<path d="M522.6,473.8 H531.2 M531.2,470.9 V477.8" stroke="#222" stroke-width="1"/>
<path d="M531.5,462.9 H543.5 V458.6 H550.8" stroke="#3a80b8" stroke-width="1.6" fill="none"/>
<polygon points="552.8,458.6 550.3,456.6 550.3,460.6" fill="#3a80b8"/>
<path d="M534.3,467.7 H546.6 V463.7 H552.8" stroke="#3a80b8" stroke-width="1.6" fill="none"/>
<polygon points="554.8,463.7 552.3,461.7 552.3,465.7" fill="#3a80b8"/>
<path d="M537.7,472.6 H549.7 V468.5 H556.3" stroke="#3a80b8" stroke-width="1.6" fill="none"/>
<polygon points="558.3,468.5 555.8,466.5 555.8,470.5" fill="#3a80b8"/>
<path d="M541.1,477.8 H553.5 V473.7 H559.7" stroke="#3a80b8" stroke-width="1.6" fill="none"/>
<polygon points="561.7,473.7 559.2,471.7 559.2,475.7" fill="#3a80b8"/>
<path d="M563.1,456 H576 M575.2,453.4 L579.4,456 L575.2,458.6" stroke="#111" stroke-width="1.5" fill="none" stroke-linejoin="miter"/>
<path d="M563.1,462.6 H576 M575.2,460.0 L579.4,462.6 L575.2,465.20000000000005" stroke="#111" stroke-width="1.5" fill="none" stroke-linejoin="miter"/>
<path d="M563.1,469.1 H576 M575.2,466.5 L579.4,469.1 L575.2,471.70000000000005" stroke="#111" stroke-width="1.5" fill="none" stroke-linejoin="miter"/>
<path d="M563.1,475.5 H576 M575.2,472.9 L579.4,475.5 L575.2,478.1" stroke="#111" stroke-width="1.5" fill="none" stroke-linejoin="miter"/>
<path d="M568.2,430.5 V427.6 H636.2 V430.5" stroke="#111" stroke-width="1.3" fill="none"/>
<path d="M568,501.5 V504.4 H636.6 V501.5" stroke="#111" stroke-width="1.3" fill="none"/>
<text x="600.8" y="389.2" font-size="13" fill="#000" text-anchor="middle" >Therapy</text>
<text x="599" y="405.2" font-size="13" fill="#000" text-anchor="middle" >induced secretome</text>
<text x="600.9" y="420.3" font-size="13" fill="#000" text-anchor="middle" >(TIS)</text>
<circle cx="572.7" cy="437" r="2.2" fill="#0c2f5c"/>
<circle cx="597.8" cy="437.2" r="2.2" fill="#0c2f5c"/>
<circle cx="640" cy="443.4" r="2.2" fill="#0c2f5c"/>
<circle cx="585" cy="449.5" r="2.2" fill="#0c2f5c"/>
<circle cx="610.3" cy="451.8" r="2.2" fill="#0c2f5c"/>
<circle cx="625.2" cy="451.8" r="2.2" fill="#0c2f5c"/>
<circle cx="592" cy="458.2" r="2.2" fill="#0c2f5c"/>
<circle cx="585" cy="463.6" r="2.2" fill="#0c2f5c"/>
<circle cx="600" cy="465.9" r="2.2" fill="#0c2f5c"/>
<circle cx="590.7" cy="474.8" r="2.2" fill="#0c2f5c"/>
<circle cx="620.6" cy="474.8" r="2.2" fill="#0c2f5c"/>
<circle cx="606.2" cy="478.2" r="2.2" fill="#0c2f5c"/>
<circle cx="615.8" cy="485.2" r="2.2" fill="#0c2f5c"/>
<circle cx="627" cy="483.2" r="2.2" fill="#0c2f5c"/>
<circle cx="634.5" cy="484.6" r="2.2" fill="#0c2f5c"/>
<circle cx="581.5" cy="489" r="2.2" fill="#0c2f5c"/>
<circle cx="630.4" cy="491.9" r="2.2" fill="#0c2f5c"/>
<circle cx="649.7" cy="490.9" r="2.2" fill="#0c2f5c"/>
<text x="597.7" y="517.8" font-size="11.5" fill="#000" text-anchor="middle" >EGF, ANGPTL7</text>
<text x="599.1" y="532" font-size="11.5" fill="#000" text-anchor="middle" >IGF1,PDGFD</text>
<text x="569.4" y="545.4" font-size="11.5" fill="#000" text-anchor="start" xml:space="preserve">IGFBP3,  ...</text>
<text x="505.7" y="520.7" font-size="12" fill="#6e6e6e" text-anchor="middle" >RAFi</text>
<text x="505.7" y="535" font-size="12" fill="#6e6e6e" text-anchor="middle" >sensitive cells</text>
<text x="695.2" y="375.9" font-size="13" fill="#1e96ae" text-anchor="middle" >RAFi</text>
<text x="694.8" y="390.3" font-size="13" fill="#1e96ae" text-anchor="middle" >resistant cells</text>
<path d="M674.20,398.00 C679.57,396.40 688.20,395.62 695.00,395.00 C701.80,394.38 708.95,394.07 715.00,394.30 C721.05,394.53 726.95,393.87 731.30,396.40 C735.65,398.93 739.32,403.25 741.10,409.50 C742.88,415.75 742.55,426.03 742.00,433.90 C741.45,441.77 739.98,450.98 737.80,456.70 C735.62,462.42 733.20,465.52 728.90,468.20 C724.60,470.88 718.48,472.33 712.00,472.80 C705.52,473.27 695.75,471.77 690.00,471.00 C684.25,470.23 682.30,469.77 677.50,468.20 C672.70,466.63 664.87,464.87 661.20,461.60 C657.53,458.33 656.87,453.75 655.50,448.60 C654.13,443.45 653.13,435.87 653.00,430.70 C652.87,425.53 653.07,421.95 654.70,417.60 C656.33,413.25 659.55,407.87 662.80,404.60 C666.05,401.33 668.83,399.60 674.20,398.00Z" fill="#a6d3de" filter="url(#shadow)"/>
<text x="701.1" y="415.2" font-size="13" fill="#13335a" text-anchor="middle" >growth</text>
<text x="701.4" y="430.7" font-size="13" fill="#13335a" text-anchor="middle" >infiltration</text>
<text x="701.4" y="445.3" font-size="13" fill="#13335a" text-anchor="middle" >metastasis</text>
<text x="705.6" y="464.1" font-size="13" fill="#000" text-anchor="middle" >AKT,...</text>
<line x1="667.4" y1="440.4" x2="667.40" y2="418.80" stroke="#3a7fc0" stroke-width="2"/>
<polygon points="667.4,414.3 670.00,419.30 664.80,419.30" fill="#3a7fc0"/>
<path d="M655,500 C655,484 668,478.2 697,478.2 C728,478.2 739.4,484 739.4,505 C739.4,530 737,547.5 705,548 C672,548.5 657,545 655.5,528 C654.8,518 655,510 655,500 Z" fill="#e4e4e6" filter="url(#shadow)"/>
<text x="699.1" y="512" font-size="13" fill="#13335a" text-anchor="middle" >survival</text>
<line x1="670.2" y1="512" x2="670.20" y2="505.90" stroke="#3a7fc0" stroke-width="2"/>
<polygon points="670.2,501.4 672.80,506.40 667.60,506.40" fill="#3a7fc0"/>
<text x="700.1" y="528.8" font-size="13" fill="#000" text-anchor="middle" >AKT,...</text>
<text x="697" y="562.2" font-size="12" fill="#6e6e6e" text-anchor="middle" >RAFi</text>
<text x="697" y="576.3" font-size="12" fill="#6e6e6e" text-anchor="middle" >sensitive cells</text>
<use href="#receptor" transform="translate(572.7,437) rotate(170) scale(1.15)"/>
<use href="#receptor" transform="translate(640,443.4) rotate(10) scale(1.1)"/>
<use href="#receptor" transform="translate(649.7,490.9) rotate(30) scale(1.1)"/>
<circle cx="572.7" cy="437" r="2.2" fill="#0c2f5c"/>
<circle cx="640" cy="443.4" r="2.2" fill="#0c2f5c"/>
<circle cx="649.7" cy="490.9" r="2.2" fill="#0c2f5c"/>
</svg></body></html>
